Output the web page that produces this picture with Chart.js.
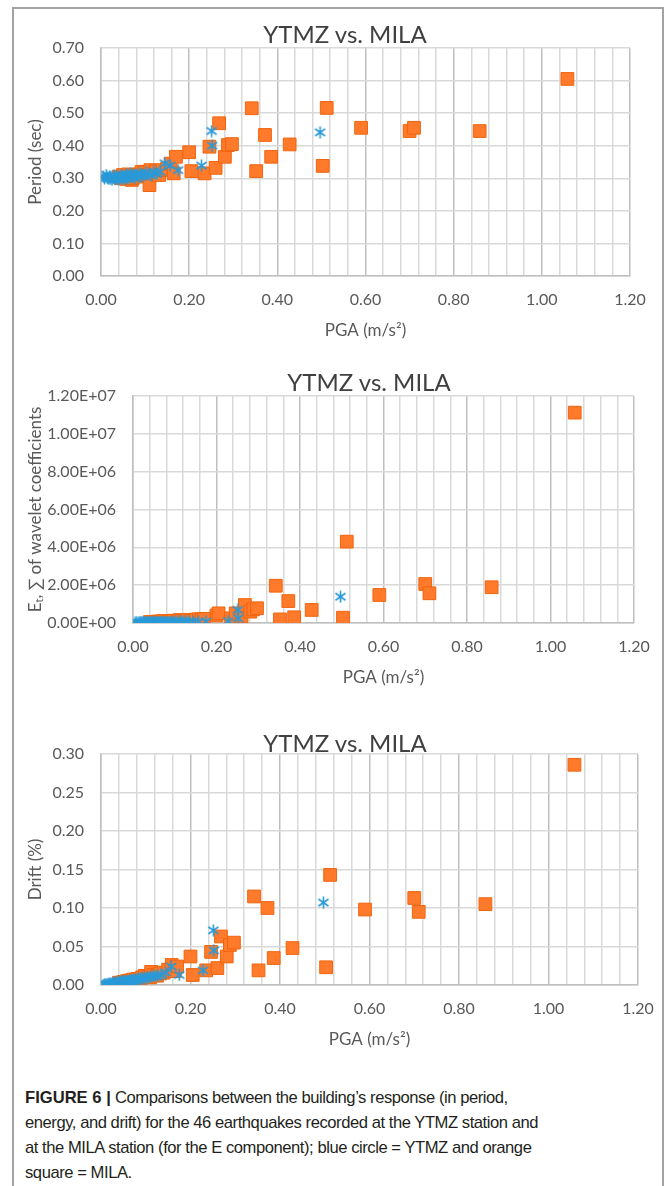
<!DOCTYPE html>
<html>
<head>
<meta charset="utf-8">
<title>YTMZ vs. MILA</title>
<script src="https://cdn.jsdelivr.net/npm/chart.js@4.4.0/dist/chart.umd.min.js"></script>
<style>
  html, body { margin: 0; padding: 0; background: #fff; overflow: hidden; }
  body { width: 668px; height: 1186px; position: relative; font-family: Lato, "Open Sans", sans-serif; }
  .frame { position: absolute; left: 12px; top: 7px; width: 648px; height: 1200px;
           border: 2px solid #a3a3a3; border-bottom: none; }
  canvas { position: absolute; }
  .ttl { position: absolute; z-index: 2; font-size: 24px; color: #404040; white-space: nowrap;
         transform: translate(-50%, -50%); line-height: 1; background: transparent; }
  .caption { position: absolute; left: 25px; top: 1085px; width: 630px;
             font-family: "Liberation Sans", Arial, sans-serif; font-size: 16.6px;
             letter-spacing: -0.45px; line-height: 25px; color: #231f20; }
  .caption b { font-weight: bold; letter-spacing: 0; }
</style>
</head>
<body>
<div class="frame"></div>

<div class="ttl" style="left:345px; top:34px;">YTMZ vs. MILA</div>
<canvas id="periodChart" width="647" height="318" style="left:13px; top:28px;"></canvas>

<div class="ttl" style="left:369px; top:382px;">YTMZ vs. MILA</div>
<canvas id="energyChart" width="647" height="317" style="left:13px; top:376px;"></canvas>

<div class="ttl" style="left:345px; top:743px;">YTMZ vs. MILA</div>
<canvas id="driftChart" width="647" height="321" style="left:13px; top:734px;"></canvas>

<div class="caption">
  <b>FIGURE 6 |</b> Comparisons between the building’s response (in period,<br>
  energy, and drift) for the 46 earthquakes recorded at the YTMZ station and<br>
  at the MILA station (for the E component); blue circle = YTMZ and orange<br>
  square = MILA.
</div>

<script>
'use strict';

// YTMZ station: PGA (m/s2), period (s), energy, drift (%) per event
var ytmzPGA = [0.005, 0.008, 0.012, 0.015, 0.018, 0.020, 0.022, 0.025, 0.028, 0.030,
               0.032, 0.035, 0.038, 0.040, 0.042, 0.045, 0.048, 0.050, 0.053, 0.055,
               0.058, 0.060, 0.063, 0.065, 0.068, 0.070, 0.073, 0.076, 0.080, 0.084,
               0.088, 0.092, 0.097, 0.102, 0.108, 0.114, 0.120, 0.127, 0.134, 0.145,
               0.157, 0.175, 0.228, 0.251, 0.252, 0.497];
var ytmzPeriod = [0.305, 0.300, 0.310, 0.302, 0.298, 0.306, 0.300, 0.295, 0.303, 0.308,
                  0.298, 0.300, 0.305, 0.296, 0.302, 0.310, 0.298, 0.304, 0.300, 0.306,
                  0.312, 0.300, 0.308, 0.303, 0.315, 0.305, 0.310, 0.300, 0.312, 0.307,
                  0.315, 0.305, 0.310, 0.318, 0.312, 0.308, 0.320, 0.314, 0.320, 0.346,
                  0.339, 0.325, 0.339, 0.445, 0.400, 0.441];
var ytmzEnergy = [5e3, 8e3, 1.0e4, 1.2e4, 1.0e4, 1.5e4, 1.3e4, 1.8e4, 1.6e4, 2.0e4,
                  1.8e4, 2.2e4, 2.0e4, 2.5e4, 2.3e4, 2.8e4, 2.5e4, 3.0e4, 2.7e4, 3.2e4,
                  3.0e4, 3.5e4, 3.3e4, 3.8e4, 3.5e4, 4.0e4, 3.8e4, 4.2e4, 4.5e4, 4.3e4,
                  4.8e4, 5.0e4, 5.2e4, 5.5e4, 5.8e4, 6.0e4, 6.5e4, 6.2e4, 7.0e4, 7.5e4,
                  7.0e4, 8.0e4, 1.0e5, 6.9e5, 2.5e5, 1.39e6];
var ytmzDrift = [0.000, 0.001, 0.001, 0.001, 0.002, 0.001, 0.002, 0.002, 0.002, 0.003,
                 0.002, 0.003, 0.003, 0.003, 0.004, 0.003, 0.004, 0.004, 0.005, 0.004,
                 0.005, 0.005, 0.006, 0.005, 0.006, 0.006, 0.007, 0.006, 0.007, 0.008,
                 0.008, 0.009, 0.009, 0.010, 0.010, 0.011, 0.012, 0.012, 0.013, 0.016,
                 0.024, 0.013, 0.019, 0.071, 0.045, 0.107];

// MILA station: same quantities
var milaPGA = [0.040, 0.045, 0.050, 0.055, 0.058, 0.062, 0.065, 0.070, 0.072, 0.078,
               0.082, 0.088, 0.092, 0.098, 0.104, 0.110, 0.112, 0.118, 0.125, 0.132,
               0.140, 0.150, 0.158, 0.165, 0.170,
               0.200, 0.205, 0.235, 0.246, 0.260, 0.268, 0.281, 0.288, 0.297,
               0.342, 0.352, 0.372, 0.386, 0.428, 0.503, 0.512, 0.590, 0.700, 0.710,
               0.859, 1.058];
var milaPeriod = [0.305, 0.300, 0.310, 0.302, 0.298, 0.312, 0.306, 0.295, 0.300, 0.310,
                  0.305, 0.312, 0.320, 0.318, 0.310, 0.279, 0.325, 0.315, 0.322, 0.310,
                  0.325, 0.330, 0.345, 0.315, 0.366,
                  0.380, 0.322, 0.315, 0.397, 0.332, 0.469, 0.366, 0.402, 0.405,
                  0.515, 0.322, 0.433, 0.366, 0.404, 0.338, 0.516, 0.455, 0.445, 0.455,
                  0.445, 0.605];
var milaEnergy = [5e4, 4e4, 6e4, 5e4, 7e4, 6e4, 8e4, 7e4, 9e4, 8e4,
                  1.0e5, 9e4, 1.1e5, 1.2e5, 1.0e5, 1.3e5, 1.5e5, 1.2e5, 1.4e5, 1.6e5,
                  1.3e5, 1.8e5, 2.0e5, 1.7e5, 2.2e5,
                  4.0e5, 5.1e5, 2.5e5, 5.1e5, 3.5e5, 9.5e5, 6.0e5, 7.2e5, 7.8e5,
                  1.97e6, 1.9e5, 1.16e6, 3.0e5, 6.9e5, 2.8e5, 4.30e6, 1.48e6, 2.06e6, 1.57e6,
                  1.89e6, 1.112e7];
var milaDrift = [0.003, 0.002, 0.004, 0.004, 0.005, 0.005, 0.006, 0.006, 0.007, 0.007,
                 0.008, 0.008, 0.010, 0.012, 0.011, 0.010, 0.017, 0.013, 0.012, 0.015,
                 0.016, 0.020, 0.026, 0.018, 0.024,
                 0.037, 0.013, 0.019, 0.043, 0.022, 0.063, 0.037, 0.052, 0.055,
                 0.115, 0.019, 0.100, 0.035, 0.048, 0.023, 0.143, 0.098, 0.113, 0.095,
                 0.105, 0.286];

var blue = '#2a9ad8';
var orangeFill = '#ff7a2a';
var orangeEdge = '#f0640e';
var tickColor = '#595959';
var gridColor = '#d9d9d9';
var majorGridColor = '#bfbfbf';

Chart.defaults.font.family = 'Lato, "Open Sans", sans-serif';

// Excel-style asterisk marker (vertical bar + X)
function makeStar(color) {
  var c = document.createElement('canvas');
  c.width = 13;
  c.height = 13;
  var g = c.getContext('2d');
  g.strokeStyle = color;
  g.lineWidth = 1.6;
  g.beginPath();
  g.moveTo(6.5, 0.5); g.lineTo(6.5, 12.5);
  g.moveTo(1.5, 3); g.lineTo(11.5, 10);
  g.moveTo(11.5, 3); g.lineTo(1.5, 10);
  g.stroke();
  return c;
}
var star = makeStar(blue);

function toPoints(xs, ys) {
  var pts = [];
  for (var i = 0; i < xs.length; i++) {
    pts.push({x: xs[i], y: ys[i]});
  }
  return pts;
}

function isMajor(v) {
  return Math.abs(v / 0.2 - Math.round(v / 0.2)) < 1e-6;
}

function excelSci(v) {
  if (v === 0) return '0.00E+00';
  var e = Math.floor(Math.log10(v) + 1e-9);
  var m = v / Math.pow(10, e);
  return m.toFixed(2) + 'E+' + (e < 10 ? '0' + e : e);
}

function makeChart(id, opts) {
  return new Chart(document.getElementById(id), {
    type: 'scatter',
    data: {
      datasets: [{
        label: 'YTMZ',
        data: toPoints(ytmzPGA, opts.ytmz),
        pointStyle: star,
        pointRadius: 6,
        borderColor: blue,
        backgroundColor: blue
      }, {
        label: 'MILA',
        data: toPoints(milaPGA, opts.mila),
        pointStyle: 'rect',
        pointRadius: 9,
        backgroundColor: orangeFill,
        borderColor: orangeEdge,
        borderWidth: 1
      }]
    },
    options: {
      responsive: false,
      animation: false,
      layout: {padding: {top: 20, right: opts.padRight, left: 0, bottom: 0}},
      plugins: {
        legend: {display: false},
        tooltip: {enabled: false}
      },
      scales: {
        x: {
          type: 'linear',
          min: 0,
          max: 1.2,
          // fixed band below the plot; label overhang is covered by layout padding
          afterFit: function (scale) {
            scale.height = 70;
            scale.paddingLeft = 0;
            scale.paddingRight = 0;
          },
          border: {display: true, color: majorGridColor, width: 1.5},
          grid: {
            drawTicks: false,
            lineWidth: 1.5,
            color: function (ctx) {
              return isMajor(ctx.tick.value) ? majorGridColor : gridColor;
            }
          },
          ticks: {
            stepSize: 0.04,
            autoSkip: false,
            maxRotation: 0,
            padding: 14,
            color: tickColor,
            font: {size: 16},
            callback: function (v) { return isMajor(v) ? v.toFixed(2) : ''; }
          },
          title: {
            display: true,
            text: 'PGA (m/s²)',
            color: tickColor,
            font: {size: 17},
            padding: {top: 0, bottom: 5}
          }
        },
        y: {
          min: 0,
          max: opts.yMax,
          afterFit: function (scale) {
            scale.width = opts.yWidth;
            scale.paddingTop = 0;
            scale.paddingBottom = 0;
          },
          border: {display: true, color: majorGridColor, width: 1.5},
          grid: {drawTicks: false, lineWidth: 1.5, color: gridColor},
          ticks: {
            stepSize: opts.yStep,
            padding: 17,
            color: tickColor,
            font: {size: 16},
            callback: opts.yFormat
          },
          title: {
            display: true,
            text: opts.yTitle,
            color: tickColor,
            font: {size: 17},
            padding: {top: 12, bottom: 0}
          }
        }
      }
    }
  });
}

makeChart('periodChart', {
  ytmz: ytmzPeriod, mila: milaPeriod,
  yMax: 0.7, yStep: 0.1, yWidth: 88, padRight: 30,
  yTitle: 'Period (sec)',
  yFormat: function (v) { return v.toFixed(2); }
});

makeChart('energyChart', {
  ytmz: ytmzEnergy, mila: milaEnergy,
  yMax: 1.2e7, yStep: 2e6, yWidth: 120, padRight: 26,
  yTitle: 'Eₜ, ∑ of wavelet coefficients',
  yFormat: excelSci
});

makeChart('driftChart', {
  ytmz: ytmzDrift, mila: milaDrift,
  yMax: 0.3, yStep: 0.05, yWidth: 88, padRight: 22,
  yTitle: 'Drift (%)',
  yFormat: function (v) { return v.toFixed(2); }
});
</script>
</body>
</html>
